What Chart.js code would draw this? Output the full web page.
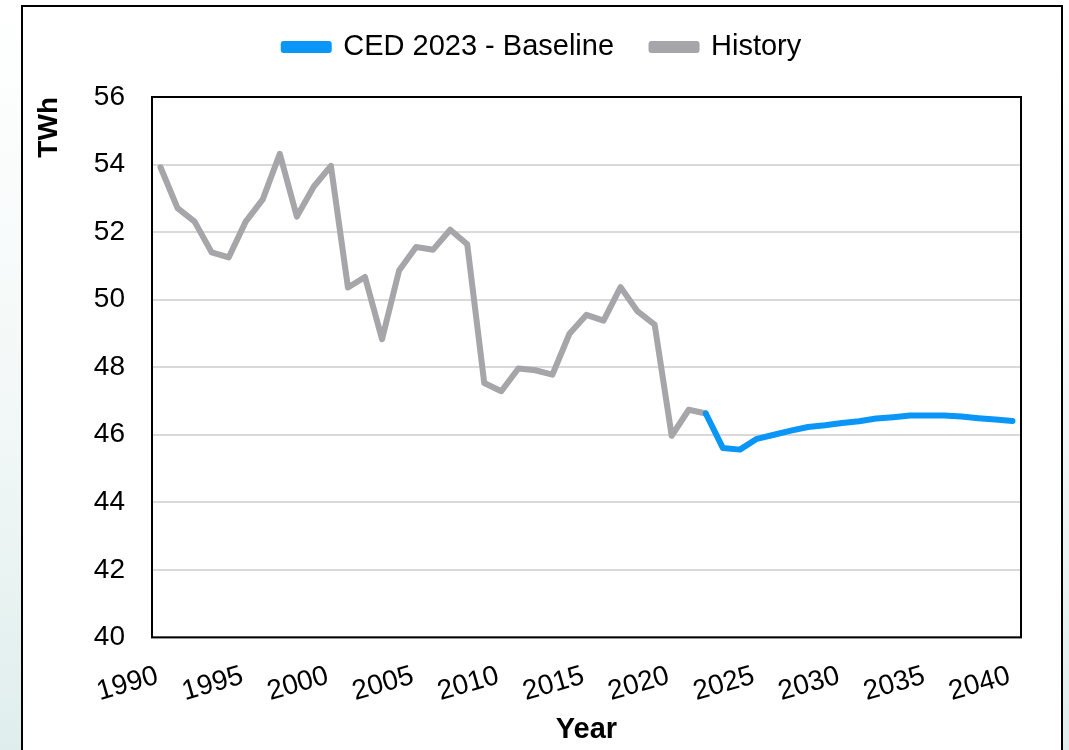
<!DOCTYPE html>
<html>
<head>
<meta charset="utf-8">
<script src="https://cdn.jsdelivr.net/npm/chart.js@4/dist/chart.umd.min.js"></script>
<style>
  html, body { margin: 0; padding: 0; }
  body { width: 1069px; height: 750px; overflow: hidden; position: relative;
         background: linear-gradient(180deg, #ffffff 0%, #f2f8f7 55%, #dfeeed 100%); }
  #frame { position: absolute; left: 21px; top: 5px; width: 1038px; height: 800px;
           border: 2px solid #000; background: #fff; }
  #c { position: absolute; left: 0; top: 0; }
</style>
</head>
<body>
<div id="frame"></div>
<canvas id="c" width="1069" height="750"></canvas>
<script>
// ---- data ----
const years = [];
for (let y = 1990; y <= 2040; y++) years.push(String(y));

const historyYears = [1990, 2022];   // first and last year of history
const historyValues = [
  53.92, 52.71, 52.31, 51.40, 51.25, 52.31, 52.97, 54.32, 52.46, 53.35,
  53.96, 50.36, 50.67, 48.83, 50.86, 51.56, 51.48, 52.07, 51.64, 47.53,
  47.29, 47.96, 47.91, 47.78, 48.99, 49.55, 49.38, 50.37, 49.65, 49.26,
  45.97, 46.74, 46.63
];
const baselineYears = [2022, 2040];
const baselineValues = [
  46.63, 45.61, 45.56, 45.88, 46.00, 46.12, 46.23, 46.28, 46.35, 46.40,
  46.48, 46.52, 46.57, 46.57, 46.57, 46.54, 46.49, 46.45, 46.41
];
const yTicks = [40, 42, 44, 46, 48, 50, 52, 54, 56];
const xTickEvery = 5;

function alignSeries(startYear, values) {
  return years.map(y => {
    const i = Number(y) - startYear;
    return (i >= 0 && i < values.length) ? values[i] : null;
  });
}
const historySeries = alignSeries(historyYears[0], historyValues);
const baselineSeries = alignSeries(baselineYears[0], baselineValues);

const FONT = "'Liberation Sans', Arial, sans-serif";

const framePlugin = {
  id: 'framePlugin',
  afterLayout(chart) {
    const lg = chart.legend;
    if (lg) {
      const dx = 18, dy = -25.5;
      lg.left += dx; lg.right += dx;
      lg.top += dy; lg.bottom += dy;
    }
  },
  afterDatasetsDraw(chart) {
    const a = chart.chartArea, ctx = chart.ctx;
    ctx.save();
    ctx.strokeStyle = '#000';
    ctx.lineWidth = 2;
    ctx.strokeRect(a.left, a.top, a.right - a.left, a.bottom - a.top);
    ctx.restore();
  }
};

new Chart(document.getElementById('c'), {
  type: 'line',
  data: {
    labels: years,
    datasets: [
      { label: 'CED 2023 - Baseline', data: baselineSeries,
        borderColor: '#0A96F7', backgroundColor: '#0A96F7',
        borderWidth: 6, pointRadius: 0, tension: 0,
        borderCapStyle: 'round', borderJoinStyle: 'round', spanGaps: false },
      { label: 'History', data: historySeries,
        borderColor: '#A5A5AA', backgroundColor: '#A5A5AA',
        borderWidth: 6, pointRadius: 0, tension: 0,
        borderCapStyle: 'round', borderJoinStyle: 'round', spanGaps: false }
    ]
  },
  options: {
    responsive: false,
    animation: false,
    devicePixelRatio: 1,
    layout: { padding: { left: 28, right: 48, top: 20.5, bottom: 0.6 } },
    plugins: {
      title: { display: false },
      tooltip: { enabled: false },
      legend: {
        display: true,
        position: 'top',
        labels: {
          boxWidth: 45, boxHeight: 6, padding: 37.5,
          color: '#000',
          font: { family: FONT, size: 29 }
        }
      }
    },
    scales: {
      x: {
        type: 'category',
        offset: true,
        grid: { display: false, drawTicks: false },
        border: { display: false },
        afterFit(scale) {
          scale.paddingLeft = 0;
          scale.paddingRight = 0;
          scale.height = 112;
        },
        ticks: {
          autoSkip: false,
          minRotation: 16, maxRotation: 16,
          padding: 22,
          labelOffset: -3,
          color: '#000',
          font: { family: FONT, size: 28 },
          callback: function(value, index) {
            const lbl = this.getLabelForValue(value);
            return (Number(lbl) % xTickEvery === 0) ? lbl : '';
          }
        },
        title: { display: true, text: 'Year', color: '#000',
                 font: { family: FONT, size: 29, weight: 'bold' },
                 padding: { top: 4, bottom: 2 } }
      },
      y: {
        min: yTicks[0], max: yTicks[yTicks.length - 1],
        afterBuildTicks(scale) { scale.ticks = yTicks.map(v => ({ value: v })); },
        afterFit(scale) { scale.width = 124; },
        grid: { color: '#D9D9D9', lineWidth: 2, drawTicks: false },
        border: { display: false },
        ticks: { padding: 27, color: '#000',
                 font: { family: FONT, size: 28 } },
        title: { display: true, text: 'TWh', align: 'end', color: '#000',
                 font: { family: FONT, size: 28, weight: 'bold' },
                 padding: { top: 4, bottom: 28 } }
      }
    }
  },
  plugins: [framePlugin]
});
</script>
</body>
</html>
